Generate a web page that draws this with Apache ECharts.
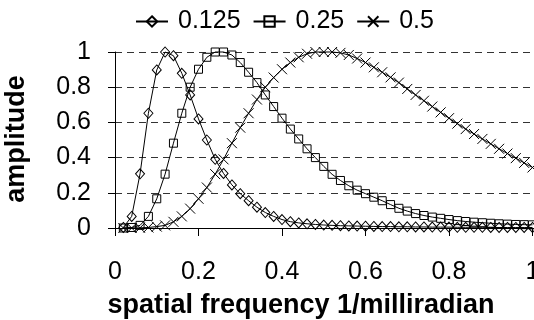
<!DOCTYPE html>
<html>
<head>
<meta charset="utf-8">
<script src="https://cdn.jsdelivr.net/npm/echarts@6/dist/echarts.min.js"></script>
<style>html,body{margin:0;padding:0;background:#fff}#c{width:534px;height:320px}</style>
</head>
<body>
<div id="c"></div>
<script>
var xValues = [0.02,0.04,0.06,0.08,0.10,0.12,0.14,0.16,0.18,0.20,
  0.22,0.24,0.26,0.28,0.30,0.32,0.34,0.36,0.38,0.40,
  0.42,0.44,0.46,0.48,0.50,0.52,0.54,0.56,0.58,0.60,
  0.62,0.64,0.66,0.68,0.70,0.72,0.74,0.76,0.78,0.80,
  0.82,0.84,0.86,0.88,0.90,0.92,0.94,0.96,0.98,1.00];
var seriesNames = ['0.125', '0.25', '0.5'];
var amp0125 = [0.003,0.066,0.308,0.652,0.898,1.0,0.979,0.879,0.756,0.62,
  0.50,0.39,0.31,0.245,0.195,0.155,0.118,0.088,0.066,0.048,
  0.036,0.029,0.024,0.020,0.017,0.015,0.013,0.012,0.011,0.010,
  0.009,0.008,0.008,0.007,0.007,0.006,0.006,0.005,0.005,0.005,
  0.004,0.004,0.004,0.004,0.003,0.003,0.003,0.003,0.003,0.003];
var amp025 = [0.0,0.003,0.015,0.066,0.166,0.306,0.482,0.652,0.80,0.902,
  0.97,1.0,1.0,0.983,0.94,0.885,0.826,0.756,0.69,0.624,
  0.562,0.506,0.45,0.40,0.35,0.305,0.27,0.24,0.215,0.195,
  0.175,0.155,0.133,0.112,0.096,0.082,0.071,0.062,0.055,0.048,
  0.042,0.037,0.033,0.030,0.027,0.024,0.022,0.020,0.019,0.018];
var amp05 = [0.0,0.0,0.001,0.003,0.008,0.015,0.035,0.066,0.11,0.166,
  0.23,0.306,0.39,0.482,0.57,0.652,0.73,0.80,0.855,0.902,
  0.94,0.97,0.99,1.0,1.0,1.0,0.995,0.983,0.963,0.94,
  0.913,0.885,0.856,0.826,0.79,0.756,0.723,0.69,0.657,0.624,
  0.593,0.562,0.534,0.506,0.478,0.45,0.423,0.397,0.37,0.344];
var yTicks = [0, 0.2, 0.4, 0.6, 0.8, 1];
var xTicks = [0, 0.2, 0.4, 0.6, 0.8, 1];
var xTitle = 'spatial frequency 1/milliradian';
var yTitle = 'amplitude';

function pairs(ys){ return xValues.map(function(x,i){ return [x, ys[i]]; }); }

var FONT = '"Liberation Sans", Arial, sans-serif';
var symbols = ['diamond', 'rect', 'path://M0,0L10,10M0,10L10,0'];
var sizes = [[9,10],[8,8],[10,10]];
var allY = [amp0125, amp025, amp05];

var series = seriesNames.map(function(n, i){
  return {
    name: n, type: 'line', data: pairs(allY[i]),
    symbol: symbols[i], symbolSize: sizes[i], showAllSymbol: true,
    clip: false, animation: false,
    lineStyle: {color: '#000', width: 1},
    itemStyle: {color: 'rgba(255,255,255,0)', borderColor: '#000', borderWidth: 1}
  };
});

var chart = echarts.init(document.getElementById('c'), null, {renderer: 'canvas'});
chart.setOption({
  animation: false,
  backgroundColor: '#fff',
  grid: {left: 115, top: 52, bottom: 92, width: 459.25, containLabel: false, outerBoundsMode: 'none'},
  legend: {
    left: 135, top: 9, padding: 0, itemWidth: 32, itemHeight: 13, itemGap: 12,
    data: seriesNames,
    textStyle: {fontFamily: FONT, fontSize: 25, color: '#000', padding: [0,0,0,5]}
  },
  xAxis: {
    type: 'value', min: 0, max: 1.1, interval: 0.2,
    axisLine: {show: true, lineStyle: {color: '#000', width: 1}},
    axisTick: {show: true, length: 8, lineStyle: {color: '#000'}},
    axisLabel: {fontFamily: FONT, fontSize: 25, color: '#000', margin: 32, showMaxLabel: false,
      formatter: function(v){ var r = Math.round(v*10)/10; return xTicks.indexOf(r) >= 0 ? String(r) : ''; }},
    splitLine: {show: false}
  },
  yAxis: {
    type: 'value', min: 0, max: 1, interval: 0.2,
    axisLine: {show: true, lineStyle: {color: '#000', width: 1}},
    axisTick: {show: true, length: 7, lineStyle: {color: '#000'}},
    axisLabel: {fontFamily: FONT, fontSize: 25, color: '#000', margin: 24,
      formatter: function(v){ return String(Math.round(v*10)/10); }},
    splitLine: {show: true, lineStyle: {color: '#333', width: 1, type: [7,5]}}
  },
  graphic: [
    {type: 'text', x: 301, y: 306, style: {text: xTitle, font: 'bold 27px ' + FONT, fill: '#000', align: 'center', verticalAlign: 'middle'}},
    {type: 'text', rotation: Math.PI/2, x: 17, y: 139, style: {text: yTitle, font: 'bold 27px ' + FONT, fill: '#000', align: 'center', verticalAlign: 'middle'}}
  ],
  series: series
});
</script>
</body>
</html>
